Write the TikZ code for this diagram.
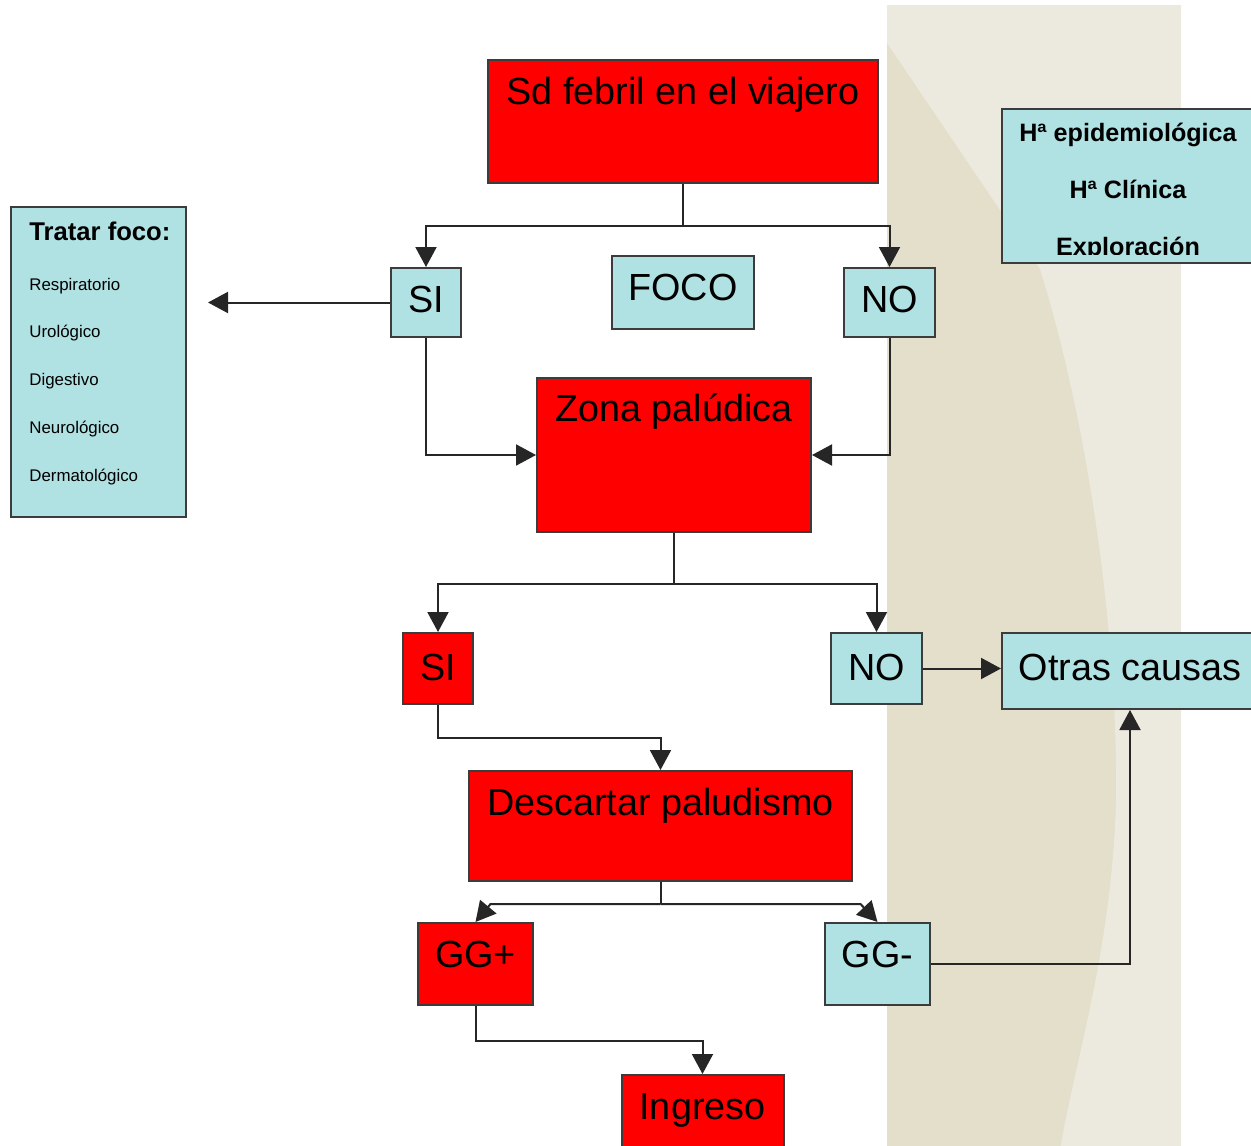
\documentclass[tikz,border=0pt]{standalone}
\usepackage{fontspec}
\setmainfont{Liberation Sans}
\usepackage{xcolor}
\usetikzlibrary{arrows.meta,positioning,calc}
\definecolor{rojo}{HTML}{FF0000}
\definecolor{celeste}{HTML}{B0E1E3}
\definecolor{borde}{HTML}{3C3C3C}
\definecolor{arena}{HTML}{E3DFCB}
\definecolor{arenaclara}{HTML}{ECE9DF}
\newcommand{\pxu}{0.2mm}

\begin{document}
\begin{tikzpicture}[x=0.2mm, y=-0.2mm,
  caja/.style={draw=borde, line width=0.4mm, inner sep=0pt, anchor=base, font=\fontsize{21.5}{26}\selectfont},
  roja/.style={caja, fill=rojo},
  azul/.style={caja, fill=celeste},
  dims/.style n args={3}{minimum width=#1*\pxu, text height=#2*\pxu, text depth=#3*\pxu},
  flecha/.style={-{Triangle[length=4mm, width=4.2mm]}, line width=0.4mm, draw=black!85},
  linea/.style={line width=0.4mm, draw=black!85}]
  \useasboundingbox (0,0) rectangle (1251,1146);
  \clip (0,0) rectangle (1251,1146);
  \fill[white] (0,0) rectangle (1251,1146);
  \fill[arena] (887,5) rectangle (1181,1150);
  \fill[arenaclara] (887,5) -- (1181,5) -- (1181,1150) -- (1060,1150) .. controls (1075,1060) and (1112,950) .. (1116,800) .. controls (1118,640) and (1090,430) .. (1040,269) -- (887,43) -- cycle;

  \node[roja, dims={390}{44}{79}] (viajero) at (683,104) {Sd febril en el viajero};
  \node[azul, dims={70}{44}{25}] (si1) at (426,312) {SI};
  \node[azul, dims={142}{44}{29}] (foco) at (683,300) {FOCO};
  \node[azul, dims={91}{44}{25}] (no1) at (889.5,312) {NO};
  \node[roja, dims={274}{43}{111}] (zona) at (674,421) {Zona palúdica};
  \node[roja, dims={70}{47}{24}] (si2) at (438,680) {SI};
  \node[azul, dims={91}{47}{24}] (no2) at (876.5,680) {NO};
  \node[azul, dims={256}{47}{29}] (otras) at (1130,680) {Otras causas};
  \node[roja, dims={383}{44}{66}] (descartar) at (660.5,815) {Descartar paludismo};
  \node[roja, dims={115}{44}{38}] (ggmas) at (475.5,967) {GG+};
  \node[azul, dims={105}{44}{38}] (ggmenos) at (877.5,967) {GG-};
  \node[roja, dims={162}{44}{41}] (ingreso) at (702.5,1119) {Ingreso};

  \node[azul, anchor=center, minimum width=175*\pxu, minimum height=310*\pxu] (tratar) at (98.5,362) {};
  \node[anchor=base west, inner sep=0pt, font=\bfseries\fontsize{14.6}{17}\selectfont] (tratartit) at (29,240) {Tratar foco:};
  \foreach \i/\organo in {0/Respiratorio,1/Urológico,2/Digestivo,3/Neurológico,4/Dermatológico}
    \node[anchor=base west, inner sep=0pt, font=\fontsize{9.6}{12}\selectfont] (organo\i) at (29,{290+47.8*\i}) {\organo};

  \node[azul, anchor=center, minimum width=252*\pxu, minimum height=154*\pxu] (historia) at (1128,186) {};
  \begin{scope}
    \clip ($(historia.south west)+(2,-10)$) rectangle ($(historia.north east)+(-2,2)$);
    \foreach \i/\dato in {0/Hª epidemiológica,1/Hª Clínica,2/Exploración}
      \node[anchor=base, inner sep=0pt, font=\bfseries\fontsize{14.3}{17}\selectfont] (dato\i) at (1128,{141+57*\i}) {\dato};
  \end{scope}

  \draw[linea] (viajero.south) -- ++(0,42) coordinate (rama1);
  \draw[flecha] (rama1) -| (si1);
  \draw[flecha] (rama1) -| (no1);
  \coordinate (tratarfin) at (208,0);
  \draw[flecha] (si1.west) -- (si1.west -| tratarfin);
  \draw[flecha] (si1) |- (zona);
  \draw[flecha] (no1) |- (zona);
  \draw[linea] (zona.south) -- ++(0,51) coordinate (rama2);
  \draw[flecha] (rama2) -| (si2);
  \draw[flecha] (rama2) -| (no2);
  \draw[flecha] (no2) -- (no2 -| otras.west);
  \draw[flecha] (si2.south) -- ++(0,33) -| (descartar);
  \draw[linea] (descartar.south) -- ++(0,22) coordinate (rama3);
  \draw[flecha] (rama3) -- ++(-170,0) -- (ggmas.north);
  \draw[flecha] (rama3) -- ++(200,0) -- (ggmenos.north);
  \draw[flecha] (ggmas.south) -- ++(0,35) -| (ingreso);
  \draw[flecha] (ggmenos) -| (otras);
\end{tikzpicture}
\end{document}
